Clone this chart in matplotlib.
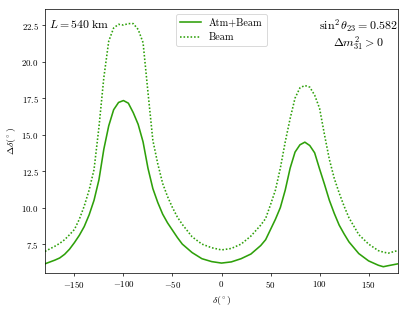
import matplotlib
matplotlib.use("Agg")
import matplotlib.pyplot as plt

plt.rcParams['font.family'] = 'serif'
plt.rcParams['font.serif'] = ['cmr10']
plt.rcParams['mathtext.fontset'] = 'cm'
plt.rcParams['axes.formatter.use_mathtext'] = True
plt.rcParams['axes.unicode_minus'] = True

delta = [-180, -170, -165, -160, -155, -150, -145, -140, -135, -130, -125, -120, -115,
         -110, -105, -100, -95, -90, -85, -80, -75, -70, -65, -60, -55, -50, -45,
         -40, -30, -20, -10, 0, 10, 20, 30, 40, 45, 50, 55, 60, 65, 70, 75, 80,
         85, 90, 95, 100, 105, 110, 115, 120, 125, 130, 140, 150, 160, 165, 170, 180]

atm_beam = [6.15, 6.4, 6.55, 6.8, 7.15, 7.6, 8.1, 8.7, 9.5, 10.5, 11.9, 14.0, 15.6,
            16.7, 17.2, 17.33, 17.15, 16.5, 15.7, 14.5, 12.7, 11.3, 10.35, 9.55, 8.95, 8.45, 7.95,
            7.5, 6.92, 6.5, 6.3, 6.2, 6.28, 6.5, 6.82, 7.4, 7.8, 8.5, 9.2, 10.0, 11.2, 12.7, 13.8, 14.3,
            14.48, 14.25, 13.75, 12.65, 11.6, 10.5, 9.6, 8.8, 8.2, 7.65, 6.85, 6.35, 6.05, 5.95, 6.02, 6.15]

beam = [7.0, 7.35, 7.55, 7.8, 8.14, 8.5, 9.2, 10.1, 11.2, 12.6, 15.5, 18.9, 21.4,
        22.3, 22.55, 22.5, 22.6, 22.6, 22.2, 21.3, 17.9, 14.6, 13.0, 11.65, 10.75, 10.0, 9.35,
        8.85, 8.0, 7.5, 7.25, 7.1, 7.2, 7.5, 8.05, 8.8, 9.25, 10.2, 11.2, 12.7, 14.5, 16.1, 17.5, 18.2,
        18.36, 18.25, 17.7, 16.8, 15.0, 13.3, 12.0, 11.0, 10.1, 9.3, 8.15, 7.5, 7.05, 6.95, 6.88, 7.06]

labels = ['Atm+Beam', 'Beam']
color = '#2ea00a'

dpi = 409 / 6.4
fig = plt.figure(figsize=(6.4, 310 / dpi), dpi=dpi)
ax = fig.add_axes([45 / 409, 1 - 273 / 310, (398 - 45) / 409, (273 - 9) / 310])

ax.plot(delta, atm_beam, color=color, lw=1.8, ls='-', label=labels[0])
ax.plot(delta, beam, color=color, lw=1.8, ls=(0, (1, 1.2)), label=labels[1])

ax.set_xlim(-180, 180)
ax.set_ylim(5.52, 23.6)
ax.set_xticks([-150, -100, -50, 0, 50, 100, 150])
ax.set_yticks([7.5, 10.0, 12.5, 15.0, 17.5, 20.0, 22.5])
ax.tick_params(labelsize=10)
ax.set_xlabel(r'$\delta(^\circ)$', fontsize=11)
ax.set_ylabel(r'$\Delta\delta(^\circ)$', fontsize=11)

ax.legend(loc='upper center', fontsize=11.5)
ax.text(0.012, 0.965, r'$L = 540\ \mathrm{km}$', transform=ax.transAxes,
        ha='left', va='top', fontsize=13.3)
ax.text(0.999, 0.965, '$\\sin^2\\theta_{23} = 0.582$\n$\\Delta m^2_{31} > 0$',
        transform=ax.transAxes, ha='right', va='top', multialignment='center',
        fontsize=13.5, linespacing=0.95)

fig.savefig('out.png', dpi=dpi)
